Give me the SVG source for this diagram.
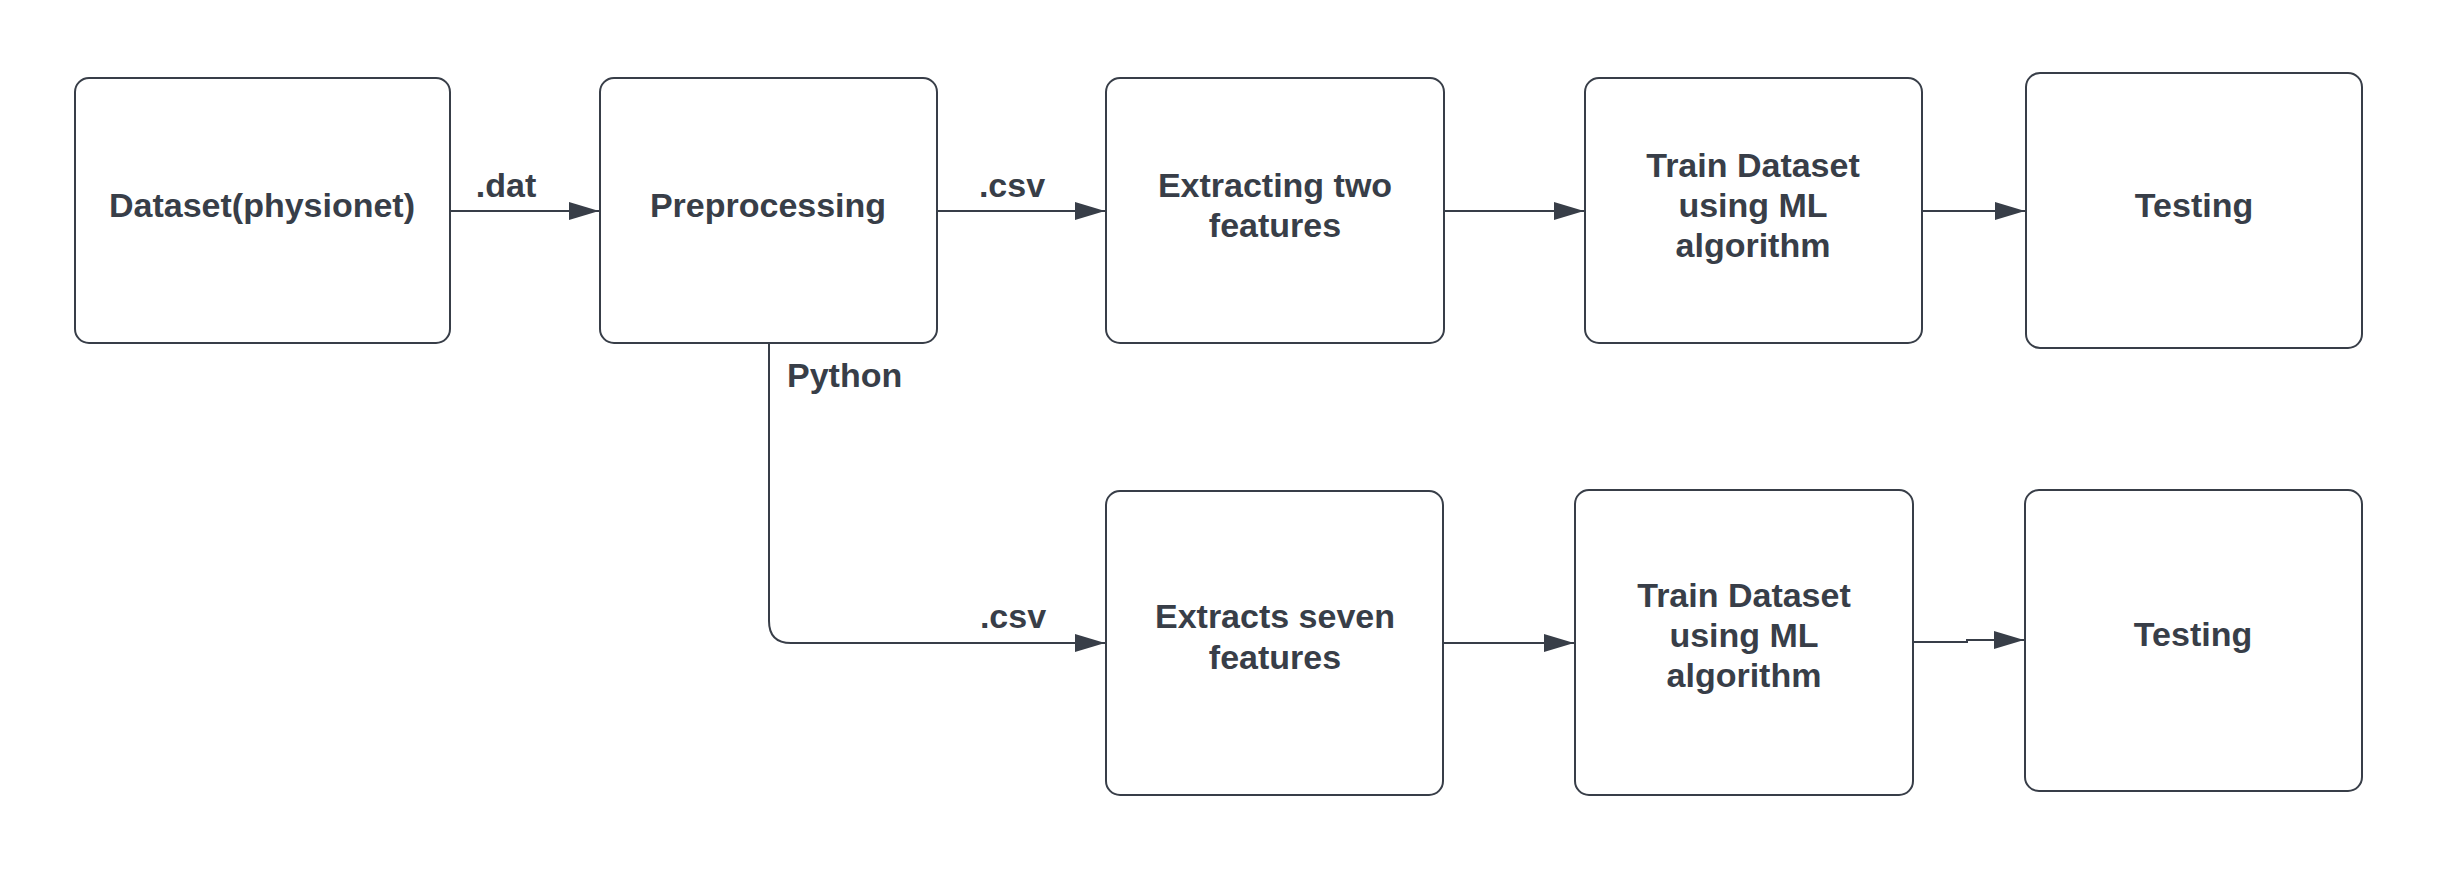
<svg xmlns="http://www.w3.org/2000/svg" width="2438" height="872" viewBox="0 0 2438 872">
<style>
.box{fill:#ffffff;stroke:#383e48;stroke-width:2}
.t{font-family:"Liberation Sans",Arial,sans-serif;font-weight:bold;font-size:34px;fill:#383e48;text-anchor:middle}
.lbl{font-family:"Liberation Sans",Arial,sans-serif;font-weight:bold;font-size:34px;fill:#383e48}
.c{fill:none;stroke:#383e48;stroke-width:2}
</style>
<defs>
<marker id="ah" markerWidth="30" markerHeight="18" refX="30" refY="9" orient="auto" markerUnits="userSpaceOnUse">
<path d="M0,0 L30,9 L0,18 Z" fill="#383e48"/>
</marker>
</defs>
<rect width="2438" height="872" fill="#ffffff"/>
<g id="connectors">
<path class="c" d="M450,211 H599" marker-end="url(#ah)"/>
<path class="c" d="M937,211 H1105" marker-end="url(#ah)"/>
<path class="c" d="M1444,211 H1584" marker-end="url(#ah)"/>
<path class="c" d="M1922,211 H2025" marker-end="url(#ah)"/>
<path class="c" d="M769,343 V621 Q769,643 791,643 H1105" marker-end="url(#ah)"/>
<path class="c" d="M1443,643 H1574" marker-end="url(#ah)"/>
<path class="c" d="M1913,642 H1967 V640 H2024" marker-end="url(#ah)"/>
<text class="t" x="506" y="197">.dat</text>
<text class="t" x="1012" y="197">.csv</text>
<text class="lbl" x="787" y="387">Python</text>
<text class="t" x="1013" y="628">.csv</text>
</g>
<g id="n1"><rect class="box" x="75" y="78" width="375" height="265" rx="14"/><text class="t" x="262" y="217">Dataset(physionet)</text></g>
<g id="n2"><rect class="box" x="600" y="78" width="337" height="265" rx="14"/><text class="t" x="768" y="217">Preprocessing</text></g>
<g id="n3"><rect class="box" x="1106" y="78" width="338" height="265" rx="14"/><text class="t" x="1275" y="197">Extracting two</text><text class="t" x="1275" y="237">features</text></g>
<g id="n4"><rect class="box" x="1585" y="78" width="337" height="265" rx="14"/><text class="t" x="1753" y="177">Train Dataset</text><text class="t" x="1753" y="217">using ML</text><text class="t" x="1753" y="257">algorithm</text></g>
<g id="n5"><rect class="box" x="2026" y="73" width="336" height="275" rx="14"/><text class="t" x="2194" y="217">Testing</text></g>
<g id="n6"><rect class="box" x="1106" y="491" width="337" height="304" rx="14"/><text class="t" x="1275" y="628">Extracts seven</text><text class="t" x="1275" y="669">features</text></g>
<g id="n7"><rect class="box" x="1575" y="490" width="338" height="305" rx="14"/><text class="t" x="1744" y="607">Train Dataset</text><text class="t" x="1744" y="647">using ML</text><text class="t" x="1744" y="687">algorithm</text></g>
<g id="n8"><rect class="box" x="2025" y="490" width="337" height="301" rx="14"/><text class="t" x="2193" y="646">Testing</text></g>
</svg>
